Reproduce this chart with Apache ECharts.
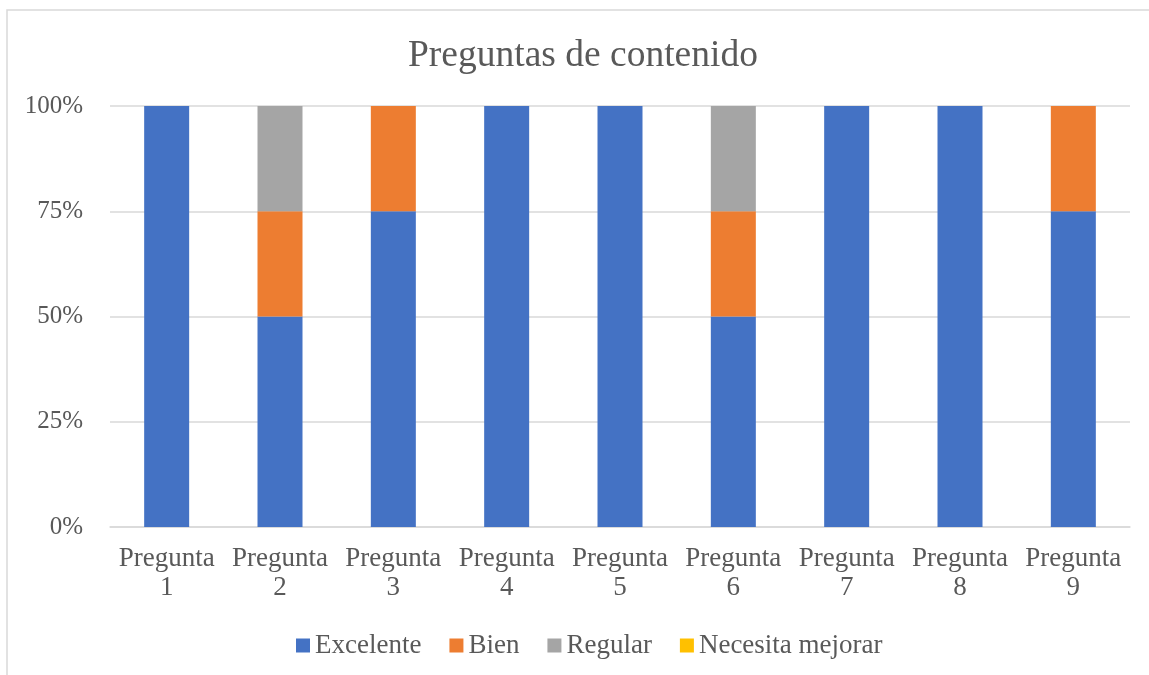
<!DOCTYPE html>
<html>
<head>
<meta charset="utf-8">
<script src="https://cdn.jsdelivr.net/npm/echarts@6/dist/echarts.min.js"></script>
<style>
  html, body { margin: 0; padding: 0; background: #fff; }
  #chart { width: 1149px; height: 675px; }
</style>
</head>
<body>
<div id="chart"></div>
<script>
// datos del gráfico
const categories = ['Pregunta\n1', 'Pregunta\n2', 'Pregunta\n3', 'Pregunta\n4', 'Pregunta\n5',
  'Pregunta\n6', 'Pregunta\n7', 'Pregunta\n8', 'Pregunta\n9']
const excelente = [100, 50, 75, 100, 100, 50, 100, 100, 75]
const bien = [0, 25, 25, 0, 0, 25, 0, 0, 25]
const regular = [0, 25, 0, 0, 0, 25, 0, 0, 0]
const necesitaMejorar = [0, 0, 0, 0, 0, 0, 0, 0, 0]

const font = '"Liberation Serif", "Times New Roman", serif'
const textColor = '#595959'

const mkSeries = (name, data, color) => ({
  name,
  type: 'bar',
  stack: 'total',
  data,
  barWidth: 45,
  itemStyle: { color },
  emphasis: { disabled: true }
})

const myChart = echarts.init(document.getElementById('chart'))
myChart.setOption({
  animation: false,
  textStyle: { fontFamily: font },
  title: {
    text: 'Preguntas de contenido',
    left: 403,
    top: 32,
    textStyle: { fontFamily: font, fontSize: 37.5, fontWeight: 'normal', color: textColor }
  },
  graphic: [{
    type: 'rect',
    shape: { x: 7, y: 10, width: 1160, height: 700 },
    style: { fill: 'none', stroke: '#d9d9d9', lineWidth: 1.5 },
    silent: true
  }],
  legend: {
    bottom: 11,
    left: 291,
    itemWidth: 14,
    itemHeight: 14,
    itemGap: 28,
    icon: 'rect',
    textStyle: { fontFamily: font, fontSize: 27, color: textColor },
    data: ['Excelente', 'Bien', 'Regular', 'Necesita mejorar']
  },
  grid: { left: 110, right: 19, top: 106, bottom: 148 },
  xAxis: {
    type: 'category',
    data: categories,
    axisLine: { lineStyle: { color: '#d9d9d9', width: 1.5 } },
    axisTick: { show: false },
    axisLabel: { fontFamily: font, fontSize: 27, color: textColor, lineHeight: 29, margin: 17, interval: 0 }
  },
  yAxis: {
    type: 'value',
    min: 0,
    max: 100,
    interval: 25,
    axisLine: { show: false },
    axisTick: { show: false },
    splitLine: { lineStyle: { color: '#d9d9d9', width: 1.5 } },
    axisLabel: { fontFamily: font, fontSize: 25, color: textColor, margin: 27, formatter: '{value}%' }
  },
  series: [
    mkSeries('Excelente', excelente, '#4472C4'),
    mkSeries('Bien', bien, '#ED7D31'),
    mkSeries('Regular', regular, '#A5A5A5'),
    mkSeries('Necesita mejorar', necesitaMejorar, '#FFC000')
  ]
})
</script>
</body>
</html>
